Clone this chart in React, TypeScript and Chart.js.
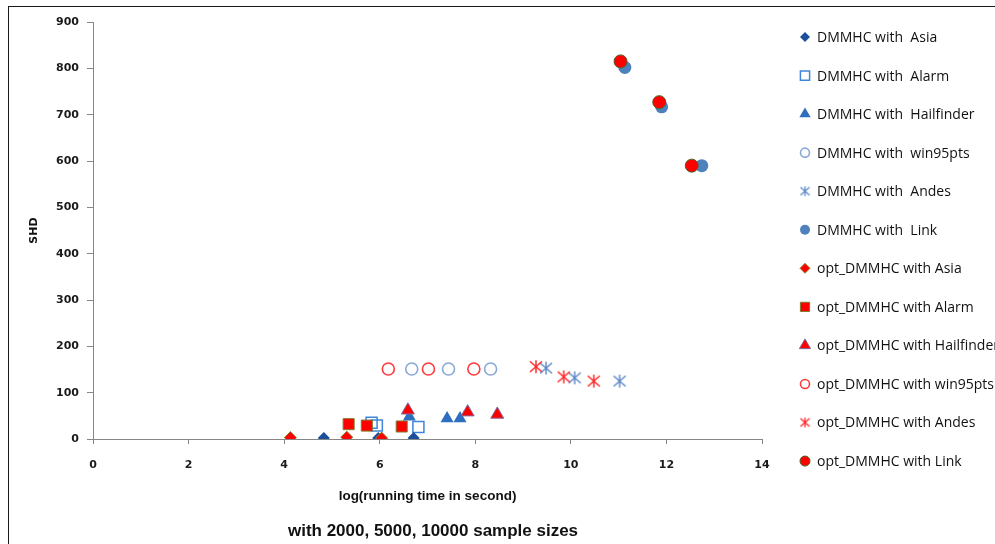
import React, { useEffect, useRef } from 'react';
import { Chart, registerables } from 'chart.js';

Chart.register(...registerables);

// ---- data ----
const seriesNames = [
  'DMMHC with  Asia',
  'DMMHC with  Alarm',
  'DMMHC with  Hailfinder',
  'DMMHC with  win95pts',
  'DMMHC with  Andes',
  'DMMHC with  Link',
  'opt_DMMHC with Asia',
  'opt_DMMHC with Alarm',
  'opt_DMMHC with Hailfinder',
  'opt_DMMHC with win95pts',
  'opt_DMMHC with Andes',
  'opt_DMMHC with Link',
];

const dmAsiaX = [4.83, 5.97, 6.71];
const dmAsiaY = [2, 2, 2];
const dmAlarmX = [5.83, 5.94, 6.81];
const dmAlarmY = [35, 29, 26];
const dmHailX = [6.62, 7.41, 7.68];
const dmHailY = [48, 44, 44];
const dmWinX = [6.67, 7.44, 8.32];
const dmWinY = [151, 151, 151];
const dmAndesX = [9.48, 10.08, 11.02];
const dmAndesY = [153, 132, 125];
const dmLinkX = [11.13, 11.9, 12.74];
const dmLinkY = [802, 717, 590];

const optAsiaX = [4.13, 5.31, 6.04];
const optAsiaY = [3, 4, 2];
const optAlarmX = [5.35, 5.73, 6.46];
const optAlarmY = [32, 29, 27];
const optHailX = [6.59, 7.84, 8.46];
const optHailY = [62, 58, 53];
const optWinX = [6.18, 7.02, 7.97];
const optWinY = [151, 151, 151];
const optAndesX = [9.27, 9.85, 10.48];
const optAndesY = [156, 134, 125];
const optLinkX = [11.04, 11.85, 12.53];
const optLinkY = [815, 727, 590];

const xTicks = [0, 2, 4, 6, 8, 10, 12, 14];
const yTicks = [0, 100, 200, 300, 400, 500, 600, 700, 800, 900];

const xTitle = 'log(running time in second)';
const yTitle = 'SHD';
const subTitle = 'with 2000, 5000, 10000 sample sizes';

const pts = (xs: number[], ys: number[]) => xs.map((x, i) => ({ x, y: ys[i] }));

function makeAsterisk(color: string, w: number, h: number, lw: number) {
  const c = document.createElement('canvas');
  c.width = w;
  c.height = h;
  const g = c.getContext('2d')!;
  g.strokeStyle = color;
  g.lineWidth = lw;
  g.lineCap = 'butt';
  const mx = w / 2;
  const my = h / 2;
  const rx = w / 2 - 1;
  const ry = h / 2 - 1;
  g.beginPath();
  g.moveTo(mx, my - ry);
  g.lineTo(mx, my + ry);
  g.moveTo(mx - rx, my - ry * 0.8);
  g.lineTo(mx + rx, my + ry * 0.8);
  g.moveTo(mx + rx, my - ry * 0.8);
  g.lineTo(mx - rx, my + ry * 0.8);
  g.stroke();
  return c;
}

const LEG_X = 805;
const LEG_TOP = 37;
const LEG_STEP = 38.55;

export default function App() {
  const ref = useRef<HTMLCanvasElement | null>(null);

  useEffect(() => {
    if (!ref.current) return;
    const blueAst = makeAsterisk('#5B87C6', 14, 15, 1.4);
    const redAst = makeAsterisk('#FF2222', 14, 15, 1.4);
    const blueAstL = makeAsterisk('#5B87C6', 11, 12, 1.2);
    const redAstL = makeAsterisk('#FF2222', 11, 12, 1.2);

    const specs: any[] = [
      { d: pts(dmAsiaX, dmAsiaY), style: 'rectRot', r: 6, bg: '#1B4F9C', bc: '#1B4F9C', bw: 0, order: 1, lr: 5 },
      { d: pts(dmAlarmX, dmAlarmY), style: 'rect', r: 7.8, bg: 'rgba(0,0,0,0)', bc: '#3F86D8', bw: 1.5, order: 1, lr: 6.5 },
      { d: pts(dmHailX, dmHailY), style: 'triangle', r: 7.5, bg: '#2E6EBE', bc: '#2E6EBE', bw: 0, order: 1, lr: 6.5 },
      { d: pts(dmWinX, dmWinY), style: 'circle', r: 6, bg: 'rgba(0,0,0,0)', bc: '#8AA8D8', bw: 1.6, order: 1, lr: 4.5 },
      { d: pts(dmAndesX, dmAndesY), style: blueAst, r: 7, bg: '#5B87C6', bc: '#5B87C6', bw: 0, order: 1, lr: 5, legImg: blueAstL },
      { d: pts(dmLinkX, dmLinkY), style: 'circle', r: 6.5, bg: '#4F81BD', bc: '#4F81BD', bw: 0, order: 1, lr: 5 },
      { d: pts(optAsiaX, optAsiaY), style: 'rectRot', r: 6, bg: '#FF0000', bc: '#8C8430', bw: 1, order: 0, lr: 5 },
      { d: pts(optAlarmX, optAlarmY), style: 'rect', r: 7.8, bg: '#FF0000', bc: '#7E7A2E', bw: 1, order: 0, lr: 6.5 },
      { d: pts(optHailX, optHailY), style: 'triangle', r: 7.5, bg: '#FF0000', bc: '#7F6A9E', bw: 1, order: 0, lr: 6.5 },
      { d: pts(optWinX, optWinY), style: 'circle', r: 6, bg: 'rgba(0,0,0,0)', bc: '#FF3B3B', bw: 1.6, order: 0, lr: 4.5 },
      { d: pts(optAndesX, optAndesY), style: redAst, r: 7, bg: '#FF2222', bc: '#FF2222', bw: 0, order: 0, lr: 5, legImg: redAstL },
      { d: pts(optLinkX, optLinkY), style: 'circle', r: 6.5, bg: '#FF0000', bc: '#4F6228', bw: 1, order: 0, lr: 5 },
    ];

    const datasets = specs.map((s, i) => ({
      label: seriesNames[i],
      data: s.d,
      pointStyle: s.style,
      pointRadius: s.r,
      pointHoverRadius: s.r,
      pointBackgroundColor: s.bg,
      pointBorderColor: s.bc,
      pointBorderWidth: s.bw,
      backgroundColor: s.bg,
      borderColor: s.bc,
      showLine: false,
      order: s.order,
    }));

    const decor = {
      id: 'decor',
      beforeDraw(chart: any) {
        const ctx = chart.ctx;
        ctx.save();
        ctx.fillStyle = '#ffffff';
        ctx.fillRect(0, 0, chart.width, chart.height);
        ctx.strokeStyle = '#1a1a1a';
        ctx.lineWidth = 1;
        ctx.strokeRect(8.5, 6.5, 1200, 1200);
        ctx.restore();
      },
      afterDraw(chart: any) {
        const ctx = chart.ctx;
        ctx.save();
        // legend
        specs.forEach((s, i) => {
          const y = LEG_TOP + i * LEG_STEP;
          const x = LEG_X;
          ctx.fillStyle = s.bg;
          ctx.strokeStyle = s.bc;
          ctx.lineWidth = s.bw;
          if (s.legImg) {
            ctx.drawImage(s.legImg, x - s.legImg.width / 2, y - s.legImg.height / 2);
          } else {
            const r = s.lr;
            ctx.beginPath();
            if (s.style === 'rectRot') {
              ctx.moveTo(x, y - r);
              ctx.lineTo(x + r, y);
              ctx.lineTo(x, y + r);
              ctx.lineTo(x - r, y);
              ctx.closePath();
            } else if (s.style === 'rect') {
              const h = r * Math.SQRT1_2;
              ctx.rect(x - h, y - h, 2 * h, 2 * h);
            } else if (s.style === 'triangle') {
              ctx.moveTo(x, y - r);
              ctx.lineTo(x + r * 0.866, y + r * 0.5);
              ctx.lineTo(x - r * 0.866, y + r * 0.5);
              ctx.closePath();
            } else {
              ctx.arc(x, y, r, 0, Math.PI * 2);
            }
            ctx.fill();
            if (s.bw > 0) ctx.stroke();
          }
          ctx.fillStyle = '#111';
          ctx.font = '14px "Open Sans"';
          ctx.textAlign = 'left';
          ctx.textBaseline = 'middle';
          ctx.fillText(seriesNames[i], 817, y + 1);
        });
        // subtitle
        ctx.fillStyle = '#111';
        ctx.font = 'bold 17px "Liberation Sans"';
        ctx.textAlign = 'center';
        ctx.textBaseline = 'middle';
        ctx.fillText(subTitle, 433, 531);
        ctx.restore();
      },
    };

    const chart = new Chart(ref.current, {
      type: 'scatter',
      data: { datasets },
      plugins: [decor],
      options: {
        animation: false,
        responsive: false,
        devicePixelRatio: 1,
        layout: { padding: { top: 22, right: 233, left: 0, bottom: 0 } },
        plugins: { legend: { display: false }, tooltip: { enabled: false } },
        scales: {
          x: {
            type: 'linear',
            min: 0,
            max: 14,
            afterFit: (s: any) => { s.height = 105; },
            afterBuildTicks: (s: any) => { s.ticks = xTicks.map((v) => ({ value: v })); },
            ticks: {
              color: '#1a1a1a',
              font: { family: '"DejaVu Sans"', size: 11, weight: 'bold' },
              padding: 15,
              maxRotation: 0,
            },
            grid: { drawOnChartArea: false, drawTicks: true, tickLength: 5, color: '#868686' },
            border: { color: '#868686', width: 1 },
            title: {
              display: true,
              text: xTitle,
              color: '#111',
              font: { family: '"Liberation Sans"', size: 13.5, weight: 'bold' },
              padding: { top: 0, bottom: 40 },
            },
          },
          y: {
            type: 'linear',
            min: 0,
            max: 900,
            afterFit: (s: any) => { s.width = 93; },
            afterBuildTicks: (s: any) => { s.ticks = yTicks.map((v) => ({ value: v })); },
            ticks: {
              color: '#1a1a1a',
              font: { family: '"DejaVu Sans"', size: 11, weight: 'bold' },
              padding: 8,
            },
            grid: { drawOnChartArea: false, drawTicks: true, tickLength: 6, color: '#868686' },
            border: { color: '#868686', width: 1 },
            title: {
              display: true,
              text: yTitle,
              color: '#111',
              font: { family: '"DejaVu Sans"', size: 11, weight: 'bold' },
              padding: { top: 28, bottom: 0 },
            },
          },
        },
      } as any,
    });
    return () => chart.destroy();
  }, []);

  return (
    <div style={{ position: 'fixed', left: 0, top: 0, width: 995, height: 544, overflow: 'hidden', background: '#fff' }}>
      <canvas ref={ref} width={995} height={544} style={{ display: 'block', width: 995, height: 544 }} />
    </div>
  );
}
